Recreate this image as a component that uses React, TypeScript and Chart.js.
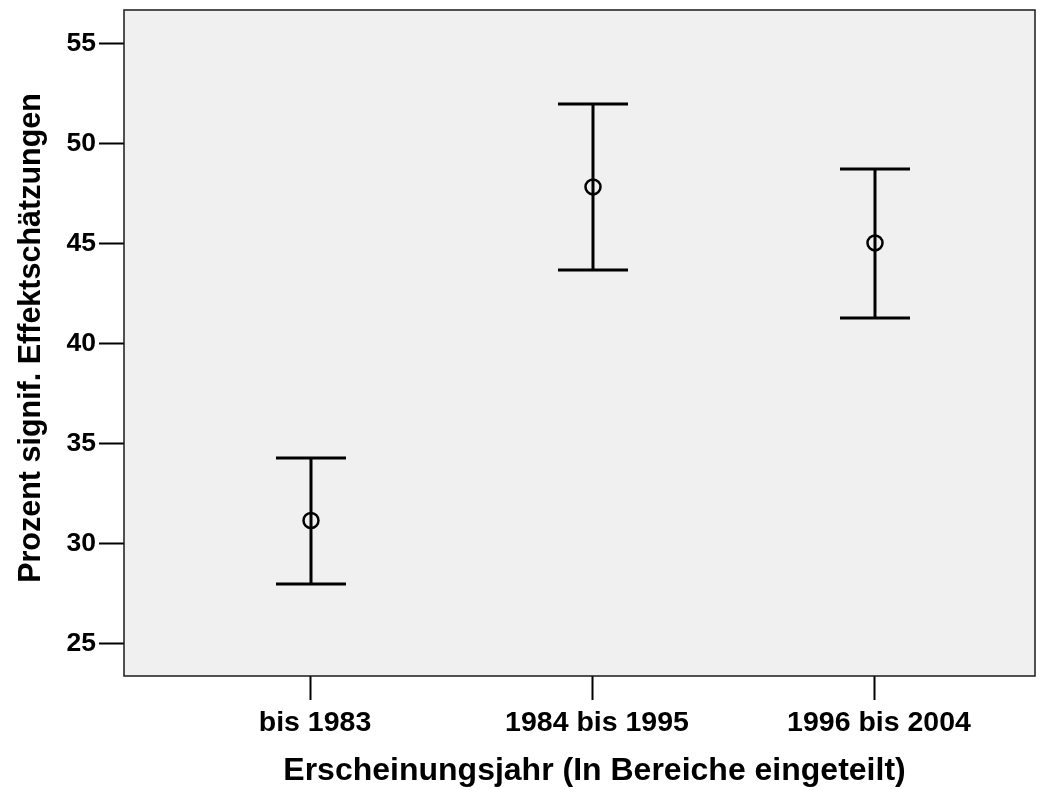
import React, { useEffect, useRef } from "react";
import { Chart, registerables } from "chart.js";

Chart.register(...registerables);

const categories = ["bis 1983", "1984 bis 1995", "1996 bis 2004"];
const categoryIndex = [0, 1, 2];
const means = [31.15, 47.83, 45.03];
const upperCI = [34.28, 51.97, 48.73];
const lowerCI = [27.98, 43.68, 41.28];
const yTickValues = [25, 30, 35, 40, 45, 50, 55];
const xTitle = "Erscheinungsjahr (In Bereiche eingeteilt)";
const yTitle = "Prozent signif. Effektschätzungen";

const FONT = "'Liberation Sans', Arial, Helvetica, sans-serif";

export default function App() {
  const ref = useRef<HTMLCanvasElement>(null);

  useEffect(() => {
    if (!ref.current) return;

    const plotPlugin = {
      id: "plotDecor",
      beforeDraw(chart: any) {
        const { ctx, chartArea: a } = chart;
        ctx.save();
        ctx.fillStyle = "#ffffff";
        ctx.fillRect(0, 0, chart.width, chart.height);
        ctx.fillStyle = "#f0f0f0";
        ctx.fillRect(a.left, a.top, a.right - a.left, a.bottom - a.top);
        ctx.restore();
      },
      beforeDatasetsDraw(chart: any) {
        const { ctx } = chart;
        const xs = chart.scales.x;
        const ys = chart.scales.y;
        ctx.save();
        ctx.strokeStyle = "#000";
        ctx.lineWidth = 3;
        ctx.lineCap = "butt";
        categoryIndex.forEach((ci, i) => {
          const x = xs.getPixelForValue(ci);
          const yTop = ys.getPixelForValue(upperCI[i]);
          const yBot = ys.getPixelForValue(lowerCI[i]);
          const half = 35;
          ctx.beginPath();
          ctx.moveTo(x, yTop);
          ctx.lineTo(x, yBot);
          ctx.moveTo(x - half, yTop);
          ctx.lineTo(x + half, yTop);
          ctx.moveTo(x - half, yBot);
          ctx.lineTo(x + half, yBot);
          ctx.stroke();
        });
        ctx.restore();
      },
      afterDraw(chart: any) {
        const { ctx, chartArea: a } = chart;
        ctx.save();
        ctx.strokeStyle = "#1a1a1a";
        ctx.lineWidth = 1.5;
        ctx.strokeRect(a.left, a.top, a.right - a.left, a.bottom - a.top);
        ctx.fillStyle = "#000";
        ctx.textAlign = "center";
        ctx.textBaseline = "middle";
        // x-axis title
        ctx.font = `bold 32px ${FONT}`;
        ctx.fillText(xTitle, (a.left + a.right) / 2 + 15, chart.height - 19);
        // y-axis title
        ctx.font = `bold 30.5px ${FONT}`;
        ctx.translate(31.5, (a.top + a.bottom) / 2 - 5);
        ctx.rotate(-Math.PI / 2);
        ctx.fillText(yTitle, 0, 0);
        ctx.restore();
      },
    };

    const chart = new Chart(ref.current, {
      type: "scatter",
      data: {
        datasets: [
          {
            data: categoryIndex.map((ci, i) => ({ x: ci, y: means[i] })),
            pointStyle: "circle",
            pointRadius: 7.5,
            pointBorderWidth: 2.5,
            pointBorderColor: "#000",
            pointBackgroundColor: "rgba(0,0,0,0)",
            showLine: false,
          },
        ],
      },
      options: {
        responsive: false,
        animation: false,
        events: [],
        layout: { padding: { top: 10, right: 10, left: 0, bottom: 0 } },
        plugins: {
          legend: { display: false },
          tooltip: { enabled: false },
          title: { display: false },
        },
        scales: {
          x: {
            type: "linear",
            min: -0.6631,
            max: 2.5674,
            afterBuildTicks(scale: any) {
              scale.ticks = categoryIndex.map((v) => ({ value: v }));
            },
            afterFit(scale: any) {
              scale.height = 114;
              scale.paddingLeft = 0;
              scale.paddingRight = 0;
            },
            grid: {
              display: true,
              drawOnChartArea: false,
              drawTicks: true,
              tickLength: 24,
              tickWidth: 2,
              tickColor: "#000",
              color: "#000",
            },
            border: { display: false },
            ticks: {
              autoSkip: false,
              maxRotation: 0,
              padding: 6,
              labelOffset: 4,
              color: "#000",
              font: { family: FONT, size: 28.5, weight: "bold" },
              callback: (v: any) => categories[Math.round(Number(v))] ?? "",
            },
            title: { display: false },
          },
          y: {
            type: "linear",
            min: 23.375,
            max: 56.675,
            afterBuildTicks(scale: any) {
              scale.ticks = yTickValues.map((v) => ({ value: v }));
            },
            afterFit(scale: any) {
              scale.width = 124;
              scale.paddingTop = 0;
              scale.paddingBottom = 0;
            },
            grid: {
              display: true,
              drawOnChartArea: false,
              drawTicks: true,
              tickLength: 25,
              tickWidth: 2,
              tickColor: "#000",
              color: "#000",
            },
            border: { display: false },
            ticks: {
              padding: 3,
              color: "#000",
              font: { family: FONT, size: 26.5, weight: "bold" },
              callback: (v: any) => String(v),
            },
            title: { display: false },
          },
        },
      },
      plugins: [plotPlugin],
    } as any);

    return () => chart.destroy();
  }, []);

  return (
    <div style={{ position: "absolute", left: 0, top: 0, width: 1045, height: 790, background: "#fff" }}>
      <canvas ref={ref} width={1045} height={790} style={{ display: "block", width: 1045, height: 790 }} />
    </div>
  );
}
